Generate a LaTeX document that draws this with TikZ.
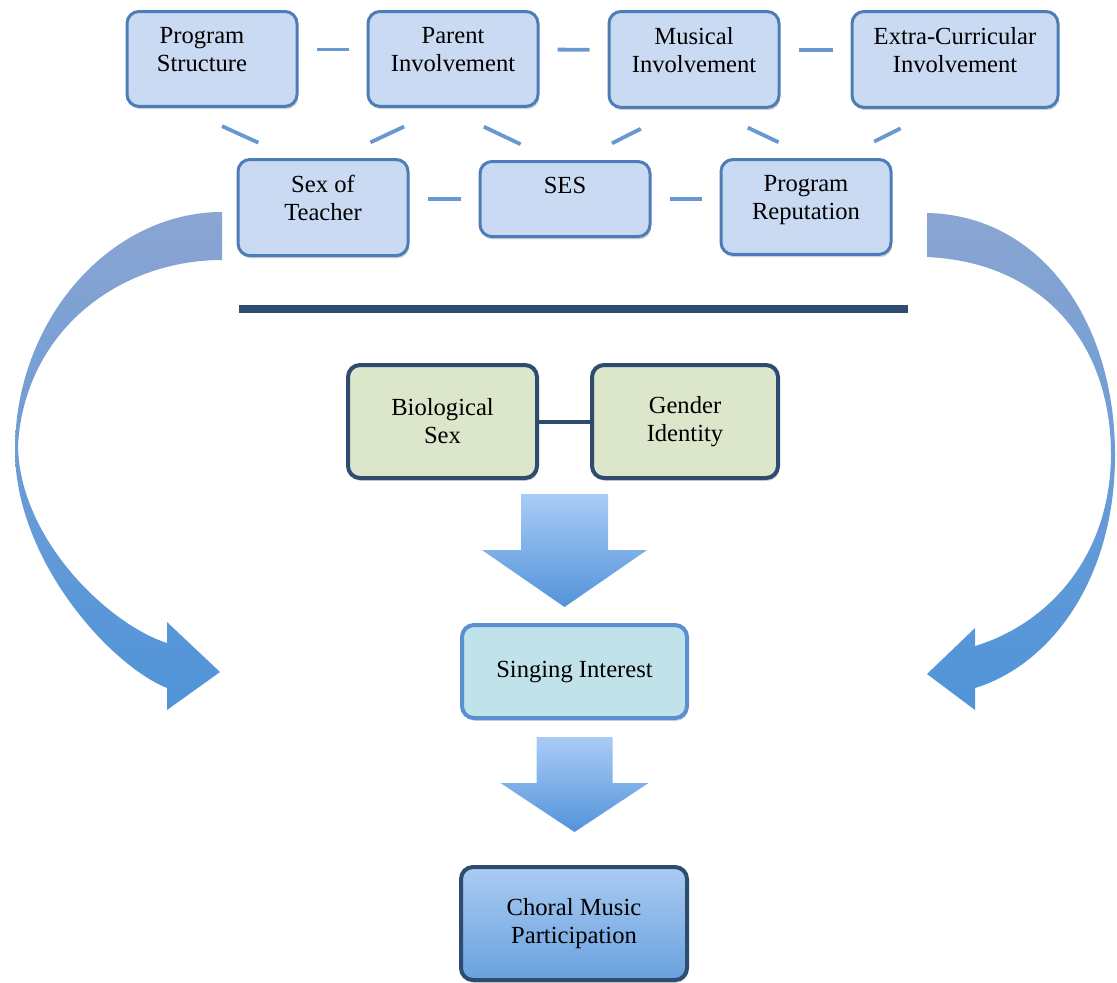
\documentclass[tikz,border=0pt]{standalone}
\usepackage{fontspec}
\setmainfont{Liberation Serif}
\usepackage{tikz}
\usetikzlibrary{shadows}
\definecolor{factorfill}{HTML}{C9DAF2}
\definecolor{factorline}{HTML}{4D7DB6}
\definecolor{linkblue}{HTML}{6898CF}
\definecolor{navy}{HTML}{2D4C6F}
\definecolor{sexfill}{HTML}{DCE6CA}
\definecolor{interestfill}{HTML}{C0E2E9}
\definecolor{interestline}{HTML}{5A90D0}
\definecolor{outcometop}{HTML}{AACBF2}
\definecolor{outcomebottom}{HTML}{69A1DF}
\definecolor{arrowtop}{HTML}{A9CCF6}
\definecolor{arrowbottom}{HTML}{5393DA}
\definecolor{curvetop}{HTML}{8AA5D2}
\definecolor{curvebottom}{HTML}{4F94D9}

\begin{document}
\begin{tikzpicture}[x=0.5pt, y=-0.5pt]
    \tikzset{%
        box/.style={rounded corners=6pt, align=flush center,
                font=\fontsize{12.3}{14}\selectfont,
                drop shadow={shadow xshift=0.6pt, shadow yshift=-1.4pt, opacity=0.35}},
        factor/.style args={#1/#2}{box, draw=factorline, fill=factorfill, line width=1.5pt,
                anchor=north, text width=#1, inner xsep=5pt, inner ysep=7.75pt, text depth=#2},
        sex/.style={box, draw=navy, fill=sexfill, line width=2pt,
                minimum width=#1, minimum height=56.5pt},
        interest/.style={box, draw=interestline, fill=interestfill, line width=2pt,
                minimum width=112.5pt, minimum height=46.5pt},
        outcome/.style={box, draw=navy, line width=2pt, top color=outcometop,
                bottom color=outcomebottom, minimum width=113pt, minimum height=56.5pt},
        link/.style={draw=linkblue, line width=1.9pt, shorten <=9pt, shorten >=9pt},
        tie/.style={draw=linkblue, line width=1.9pt, shorten <=22pt, shorten >=18.5pt},
        pair/.style={draw=navy, line width=2pt},
        divider/.style={draw=navy, line width=4pt},
        sweep/.style={top color=curvetop, bottom color=curvebottom},
        pics/blockarrow/.style args={#1/#2/#3/#4}{code={%
                \path[top color=arrowtop, bottom color=arrowbottom]
                    ({-#1/2}, 0) -- ({#1/2}, 0) -- ({#1/2}, {#3-#4}) -- ({#2/2}, {#3-#4})
                    -- (0, #3) -- ({-#2/2}, {#3-#4}) -- ({-#1/2}, {#3-#4}) -- cycle;
            }}
    }

    \useasboundingbox (0, 0) rectangle (1117, 982);

    % sweeping arrows, left and right
    \path[sweep] (222,212) .. controls (110,212) and (15,320) .. (15,450)
        .. controls (15,560) and (110,665) .. (167,688)
        -- (167,710) -- (220,672) -- (167,622) -- (167,643)
        .. controls (110,625) and (19,540) .. (18,445)
        .. controls (25,330) and (120,260) .. (222,260) -- cycle;
    \path[sweep] (927,213) .. controls (1040,215) and (1115,320) .. (1115,455)
        .. controls (1115,580) and (1050,665) .. (975,688)
        -- (975,710) -- (927,674) -- (975,628) -- (975,646)
        .. controls (1045,625) and (1110,560) .. (1111,455)
        .. controls (1111,340) and (1040,262) .. (927,257) -- cycle;

    % context factors
    \node[factor=75pt/23.9pt] (ps) at (212, 10) {Program\kern10pt\\Structure\kern10pt};
    \node[factor=75pt/23.9pt] (pi) at (453, 10) {Parent\\Involvement};
    \node[factor=75pt/23.9pt] (mi) at (694, 10) {Musical\\Involvement};
    \node[factor=93pt/23.9pt] (ec) at (955, 10) {Extra-Curricular\\Involvement};
    \node[factor=75pt/23.9pt] (sot) at (323, 158) {Sex of\\Teacher};
    \node[factor=75pt/13.9pt] (ses) at (565, 160) {SES};
    \node[factor=75pt/23.9pt] (pr) at (806, 158) {Program\\Reputation};

    \draw[link] ([yshift=4.75pt]ps.east) -- ([yshift=4.75pt]pi.west);
    \draw[link] ([yshift=4.75pt]pi.east) -- ([yshift=4.75pt]mi.west);
    \draw[link] ([yshift=4.75pt]mi.east) -- ([yshift=4.75pt]ec.west);
    \draw[link] (sot.east |- ses.east) -- (ses.west);
    \draw[link] (ses.east) -- (pr.west |- ses.east);

    \draw[tie] ([xshift=-15pt]ps.south) -- ([xshift=-15.5pt]sot.north);
    \draw[tie] ([xshift=-4.5pt]pi.south) -- ([xshift=7pt]sot.north);
    \draw[tie] ([xshift=-4.5pt]pi.south) -- ([xshift=-5.5pt]ses.north);
    \draw[tie] ([xshift=-7pt]mi.south) -- ([xshift=7pt]ses.north);
    \draw[tie] ([xshift=7pt]mi.south) -- ([xshift=3pt]pr.north);
    \draw[tie] ([xshift=-7.5pt]ec.south) -- ([xshift=17.5pt]pr.north);

    \draw[divider] (239, 309) -- (908, 309);

    % student side
    \node[sex=94.5pt] (bs) at (442.5, 421.5) {Biological\\Sex};
    \node[sex=93pt] (gi) at (685, 421.5) {Gender\\Identity};
    \draw[pair] (bs.east) -- (gi.west);

    % shaft/head/length/head length
    \pic at (564.5, 494) {blockarrow=87/165/113/57};
    \node[interest] (si) at (574.5, 671.5) {Singing Interest};
    \pic at (574.5, 737) {blockarrow=76/148/95/49};
    \node[outcome] (cm) at (574, 923.5) {Choral Music\\Participation};
\end{tikzpicture}
\end{document}
